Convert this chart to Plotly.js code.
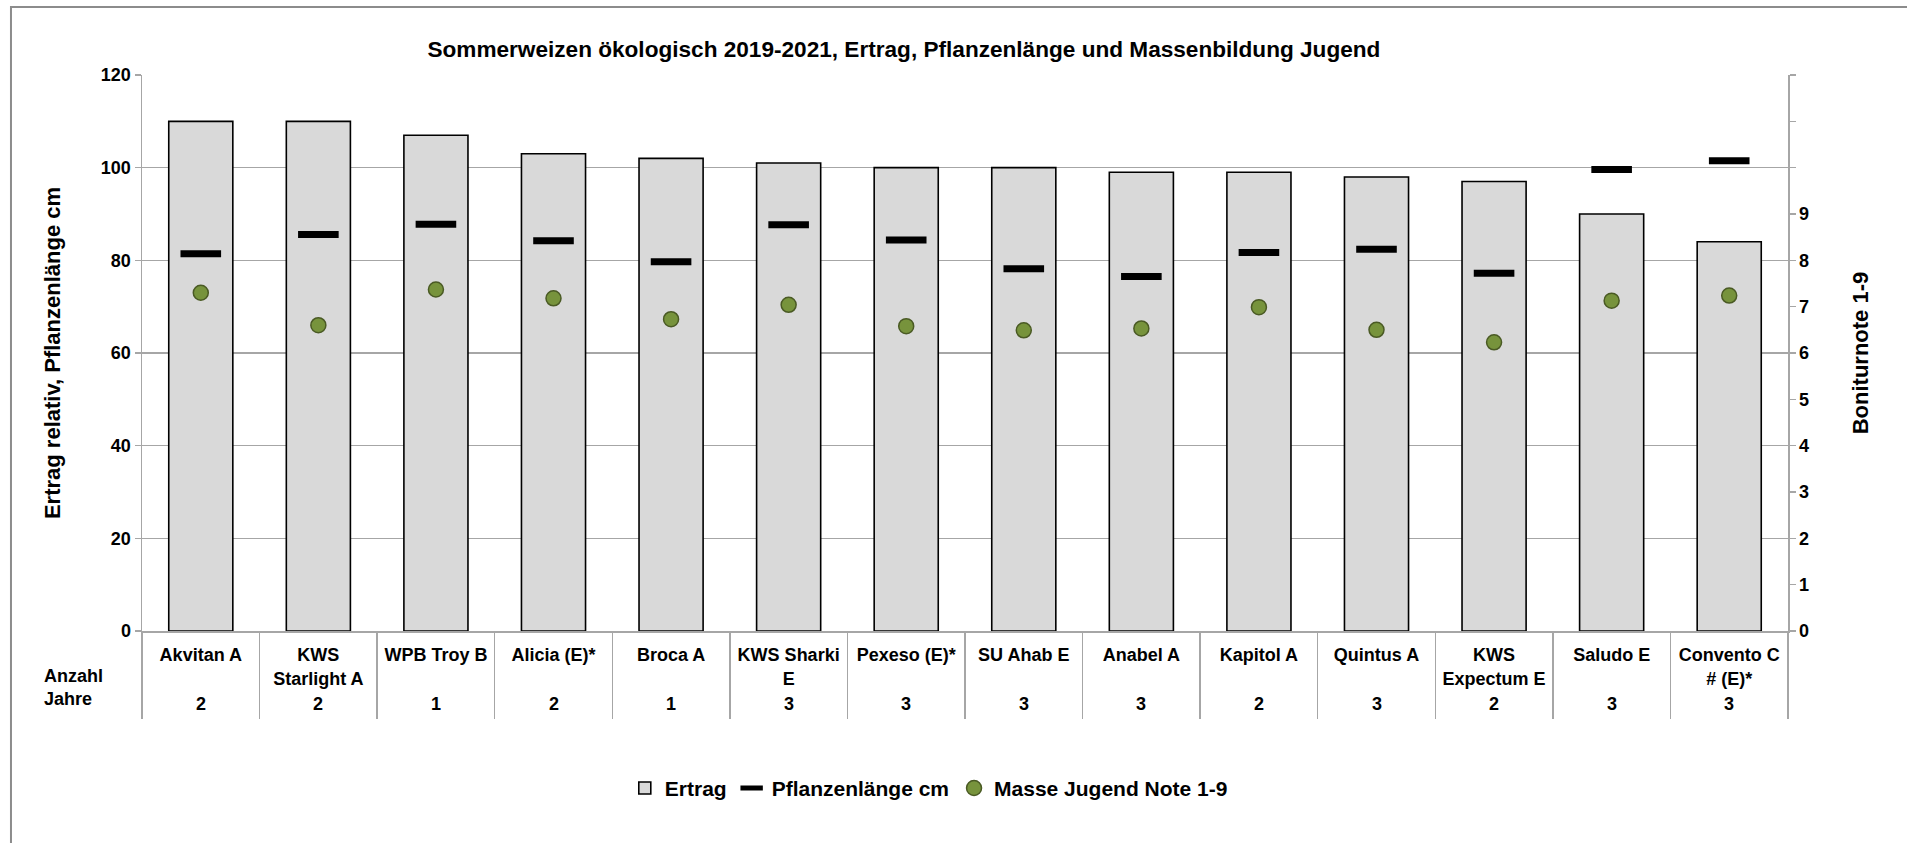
<!DOCTYPE html>
<html>
<head>
<meta charset="utf-8">
<script src="https://cdn.plot.ly/plotly-3.0.1.min.js"></script>
<style>
  html, body { margin: 0; padding: 0; background: #ffffff; }
  #chart { width: 1907px; height: 843px; }
</style>
</head>
<body>
<div id="chart"></div>
<script>
// ---- data ----
const varieties = ['Akvitan A', 'KWS Starlight A', 'WPB Troy B', 'Alicia (E)*', 'Broca A', 'KWS Sharki E',
  'Pexeso (E)*', 'SU Ahab E', 'Anabel A', 'Kapitol A', 'Quintus A', 'KWS Expectum E', 'Saludo E', 'Convento C # (E)*'];
const tickLabels = ['Akvitan A', 'KWS<br>Starlight A', 'WPB Troy B', 'Alicia (E)*', 'Broca A', 'KWS Sharki<br>E',
  'Pexeso (E)*', 'SU Ahab E', 'Anabel A', 'Kapitol A', 'Quintus A', 'KWS<br>Expectum E', 'Saludo E', 'Convento C<br># (E)*'];
const ertrag = [110, 110, 107, 103, 102, 101, 100, 100, 99, 99, 98, 97, 90, 84];
const pflanzenlaenge = [81.4, 85.6, 87.8, 84.2, 79.7, 87.7, 84.4, 78.2, 76.5, 81.7, 82.4, 77.2, 99.6, 101.5];
const masseJugend = [7.30, 6.60, 7.37, 7.18, 6.73, 7.04, 6.58, 6.49, 6.53, 6.99, 6.50, 6.23, 7.13, 7.24];
const anzahlJahre = [2, 2, 1, 2, 1, 3, 3, 3, 3, 2, 3, 2, 3, 3];
const leftTicks = [0, 20, 40, 60, 80, 100, 120];
const rightTickVals = [0, 1, 2, 3, 4, 5, 6, 7, 8, 9, 10, 11, 12];
const rightTickText = ['0', '1', '2', '3', '4', '5', '6', '7', '8', '9', '', '', ''];

const FONT = 'Liberation Sans, Arial, Helvetica, sans-serif';
const GRID = '#a6a6a6';

const traces = [
  {
    type: 'bar', name: 'Ertrag', x: varieties, y: ertrag,
    marker: { color: '#d9d9d9', line: { color: '#000000', width: 1.6 } },
    hoverinfo: 'x+y'
  },
  {
    type: 'scatter', mode: 'markers', name: 'Pflanzenlänge cm', x: varieties, y: pflanzenlaenge,
    marker: { symbol: 'line-ew', size: 29, color: '#000000', line: { color: '#000000', width: 7 } }
  },
  {
    type: 'scatter', mode: 'markers', name: 'Masse Jugend Note 1-9', x: varieties, y: masseJugend, yaxis: 'y2',
    marker: { symbol: 'circle', size: 15, color: '#77933c', line: { color: '#4a5a24', width: 1.5 } }
  }
];

const annotations = anzahlJahre.map((v, i) => ({
  x: varieties[i], xref: 'x', y: -0.131, yref: 'paper', text: String(v), showarrow: false,
  xanchor: 'center', yanchor: 'middle', font: { family: FONT, size: 18, color: '#000', weight: 700 }
}));
annotations.push({
  x: -0.0605, xref: 'paper', y: -0.102, yref: 'paper', text: 'Anzahl<br>Jahre', showarrow: false,
  xanchor: 'left', yanchor: 'middle', align: 'left',
  font: { family: FONT, size: 18, color: '#000', weight: 700 }
});

const layout = {
  width: 1907, height: 843,
  margin: { l: 142, r: 119, t: 75, b: 212, autoexpand: false },
  paper_bgcolor: '#ffffff', plot_bgcolor: '#ffffff',
  font: { family: FONT, size: 18, color: '#000000', weight: 700 },
  title: {
    text: 'Sommerweizen ökologisch 2019-2021, Ertrag, Pflanzenlänge und Massenbildung Jugend',
    x: 0.474, xanchor: 'center', xref: 'container',
    y: 0.942, yanchor: 'middle', yref: 'container',
    font: { family: FONT, size: 22.6, color: '#000', weight: 700 }
  },
  bargap: 0.455,
  showlegend: true,
  legend: {
    orientation: 'h', x: 0.478, xanchor: 'center', y: -0.283, yanchor: 'middle',
    font: { family: FONT, size: 21, color: '#000', weight: 700 },
    traceorder: 'normal', itemwidth: 30
  },
  xaxis: {
    type: 'category', range: [-0.5, 13.5], autorange: false,
    tickmode: 'array', tickvals: varieties, ticktext: tickLabels, tickangle: 0,
    tickson: 'boundaries', ticks: 'outside', ticklen: 86, tickwidth: 1.5, tickcolor: GRID,
    ticklabelstandoff: 7,
    showline: true, linecolor: GRID, linewidth: 1.5,
    showgrid: false, zeroline: false,
    tickfont: { family: FONT, size: 18, color: '#000', weight: 700 },
    automargin: false, fixedrange: true
  },
  yaxis: {
    range: [0, 120], tickmode: 'array', tickvals: leftTicks,
    ticks: 'outside', ticklen: 6, tickwidth: 1.5, tickcolor: GRID,
    showline: true, linecolor: GRID, linewidth: 1.5,
    showgrid: true, gridcolor: GRID, gridwidth: 1.5, zeroline: false,
    tickfont: { family: FONT, size: 18, color: '#000', weight: 700 },
    title: { text: 'Ertrag relativ, Pflanzenlänge cm', standoff: 34,
      font: { family: FONT, size: 22, color: '#000', weight: 700 } },
    automargin: false, fixedrange: true
  },
  yaxis2: {
    overlaying: 'y', side: 'right', range: [0, 12],
    tickmode: 'array', tickvals: rightTickVals, ticktext: rightTickText,
    ticks: 'outside', ticklen: 6, tickwidth: 1.5, tickcolor: GRID,
    showline: true, linecolor: GRID, linewidth: 1.5,
    showgrid: false, zeroline: false,
    tickfont: { family: FONT, size: 18, color: '#000', weight: 700 },
    title: { text: 'Boniturnote 1-9', standoff: 44,
      font: { family: FONT, size: 22, color: '#000', weight: 700 } },
    automargin: false, fixedrange: true
  },
  annotations: annotations,
  shapes: [{
    type: 'rect', xref: 'paper', yref: 'paper', layer: 'below',
    x0: -0.0796, x1: 1.2, y0: -0.6, y1: 1.1223,
    line: { color: '#8c8c8c', width: 2 }, fillcolor: 'rgba(0,0,0,0)'
  }]
};

Plotly.newPlot('chart', traces, layout, { displayModeBar: false, staticPlot: true });
</script>
</body>
</html>
